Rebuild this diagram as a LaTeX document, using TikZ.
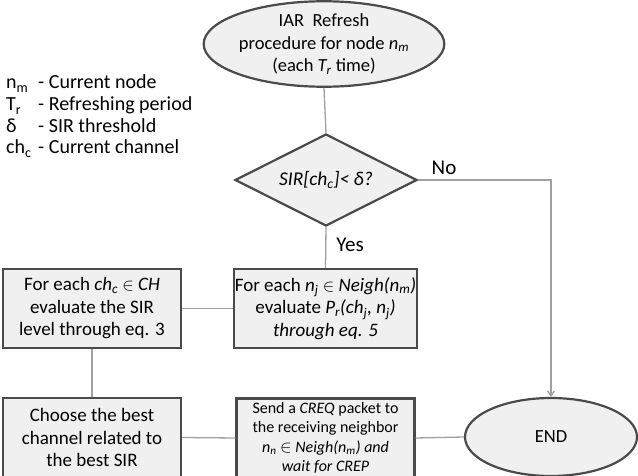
\documentclass[tikz,border=0pt]{standalone}
\usepackage{fontspec}
\setmainfont{Carlito}
\usetikzlibrary{shapes.geometric,arrows.meta}
\definecolor{boxfill}{HTML}{F0F0F0}
\definecolor{boxline}{HTML}{4A4A4A}
\definecolor{conn}{HTML}{A0A0A0}
\newcommand{\lsb}[1]{\textsubscript{#1}}
\tikzset{
  procbox/.style={draw=boxline, fill=boxfill, line width=2.2pt, rectangle, minimum width=178pt, minimum height=79pt, align=center, inner sep=1pt, font=\fontsize{19}{22.5}\selectfont},
  termell/.style={draw=boxline, fill=boxfill, line width=2.2pt, ellipse, align=center, inner sep=0pt, font=\fontsize{18.5}{22.5}\selectfont},
  decdia/.style={draw=boxline, fill=boxfill, line width=2.2pt, diamond, aspect=2, inner sep=0pt, minimum width=182pt, minimum height=92pt, font=\fontsize{19.5}{22}\selectfont},
  connline/.style={draw=conn, line width=1.3pt},
  lbl/.style={font=\fontsize{21}{24}\selectfont, inner sep=0pt},
  legtxt/.style={font=\fontsize{20}{22}\selectfont, inner sep=0pt, anchor=base west}
}
\begin{document}
\begin{tikzpicture}[x=1pt,y=-1pt]
\useasboundingbox (0,0) rectangle (638,476);
\node[termell, minimum width=182pt, minimum height=84pt] (start) at (324,44)
  {IAR\ \ Refresh\\procedure for node \textit{n\lsb{m}}\\(each \textit{T\lsb{r}} time)};
\node[decdia] (dec) at (326,180) {\textit{SIR[ch\lsb{c}]<\ δ?}};
\node[procbox] (neigh) at (325.5,308.5)
  {For each \textit{n\lsb{j}} $\in$ \textit{Neigh(n\lsb{m})}\\evaluate \textit{P\lsb{r}(ch\lsb{j}, n\lsb{j})}\\\textit{through eq. 5}};
\node[procbox] (eval) at (92,308.5)
  {For each \textit{ch\lsb{c}} $\in$ \textit{CH}\\evaluate the SIR\\level through eq. 3};
\node[procbox] (choose) at (92,437.5)
  {Choose the best\\channel related to\\the best SIR};
\node[procbox, font=\fontsize{16}{19.5}\selectfont, inner sep=0pt] (send) at (325.5,438)
  {Send a \textit{CREQ} packet to\\the receiving neighbor\\\textit{n\lsb{n}} $\in$ \textit{Neigh(n\lsb{m}) and}\\\textit{wait for CREP}};
\node[termell, minimum width=172pt, minimum height=78pt] (end) at (551,437) {END};

\draw[connline] (start.south) -- (dec.north);
\draw[connline] (dec.south) -- (neigh.north);
\draw[connline, -{Straight Barb[length=5pt,width=7pt]}] (dec.east) -| (end.north);
\draw[connline] (neigh.west) -- (eval.east);
\draw[connline] (eval.south) -- (choose.north);
\draw[connline] (choose.east) -- (send.west);
\draw[connline] (send.east) -- (end.west);

\node[lbl] (no) at (444,168) {No};
\node[lbl] (yes) at (350,245) {Yes};

\node[legtxt] (l1a) at (6,89) {n\lsb{m}};
\node[legtxt] (l1b) at (38,89) {- Current node};
\node[legtxt] (l2a) at (6,111) {T\lsb{r}};
\node[legtxt] (l2b) at (38,111) {- Refreshing period};
\node[legtxt] (l3a) at (6,132.5) {δ};
\node[legtxt] (l3b) at (38,132.5) {- SIR threshold};
\node[legtxt] (l4a) at (6,154) {ch\lsb{c}};
\node[legtxt] (l4b) at (38,154) {- Current channel};
\end{tikzpicture}
\end{document}
